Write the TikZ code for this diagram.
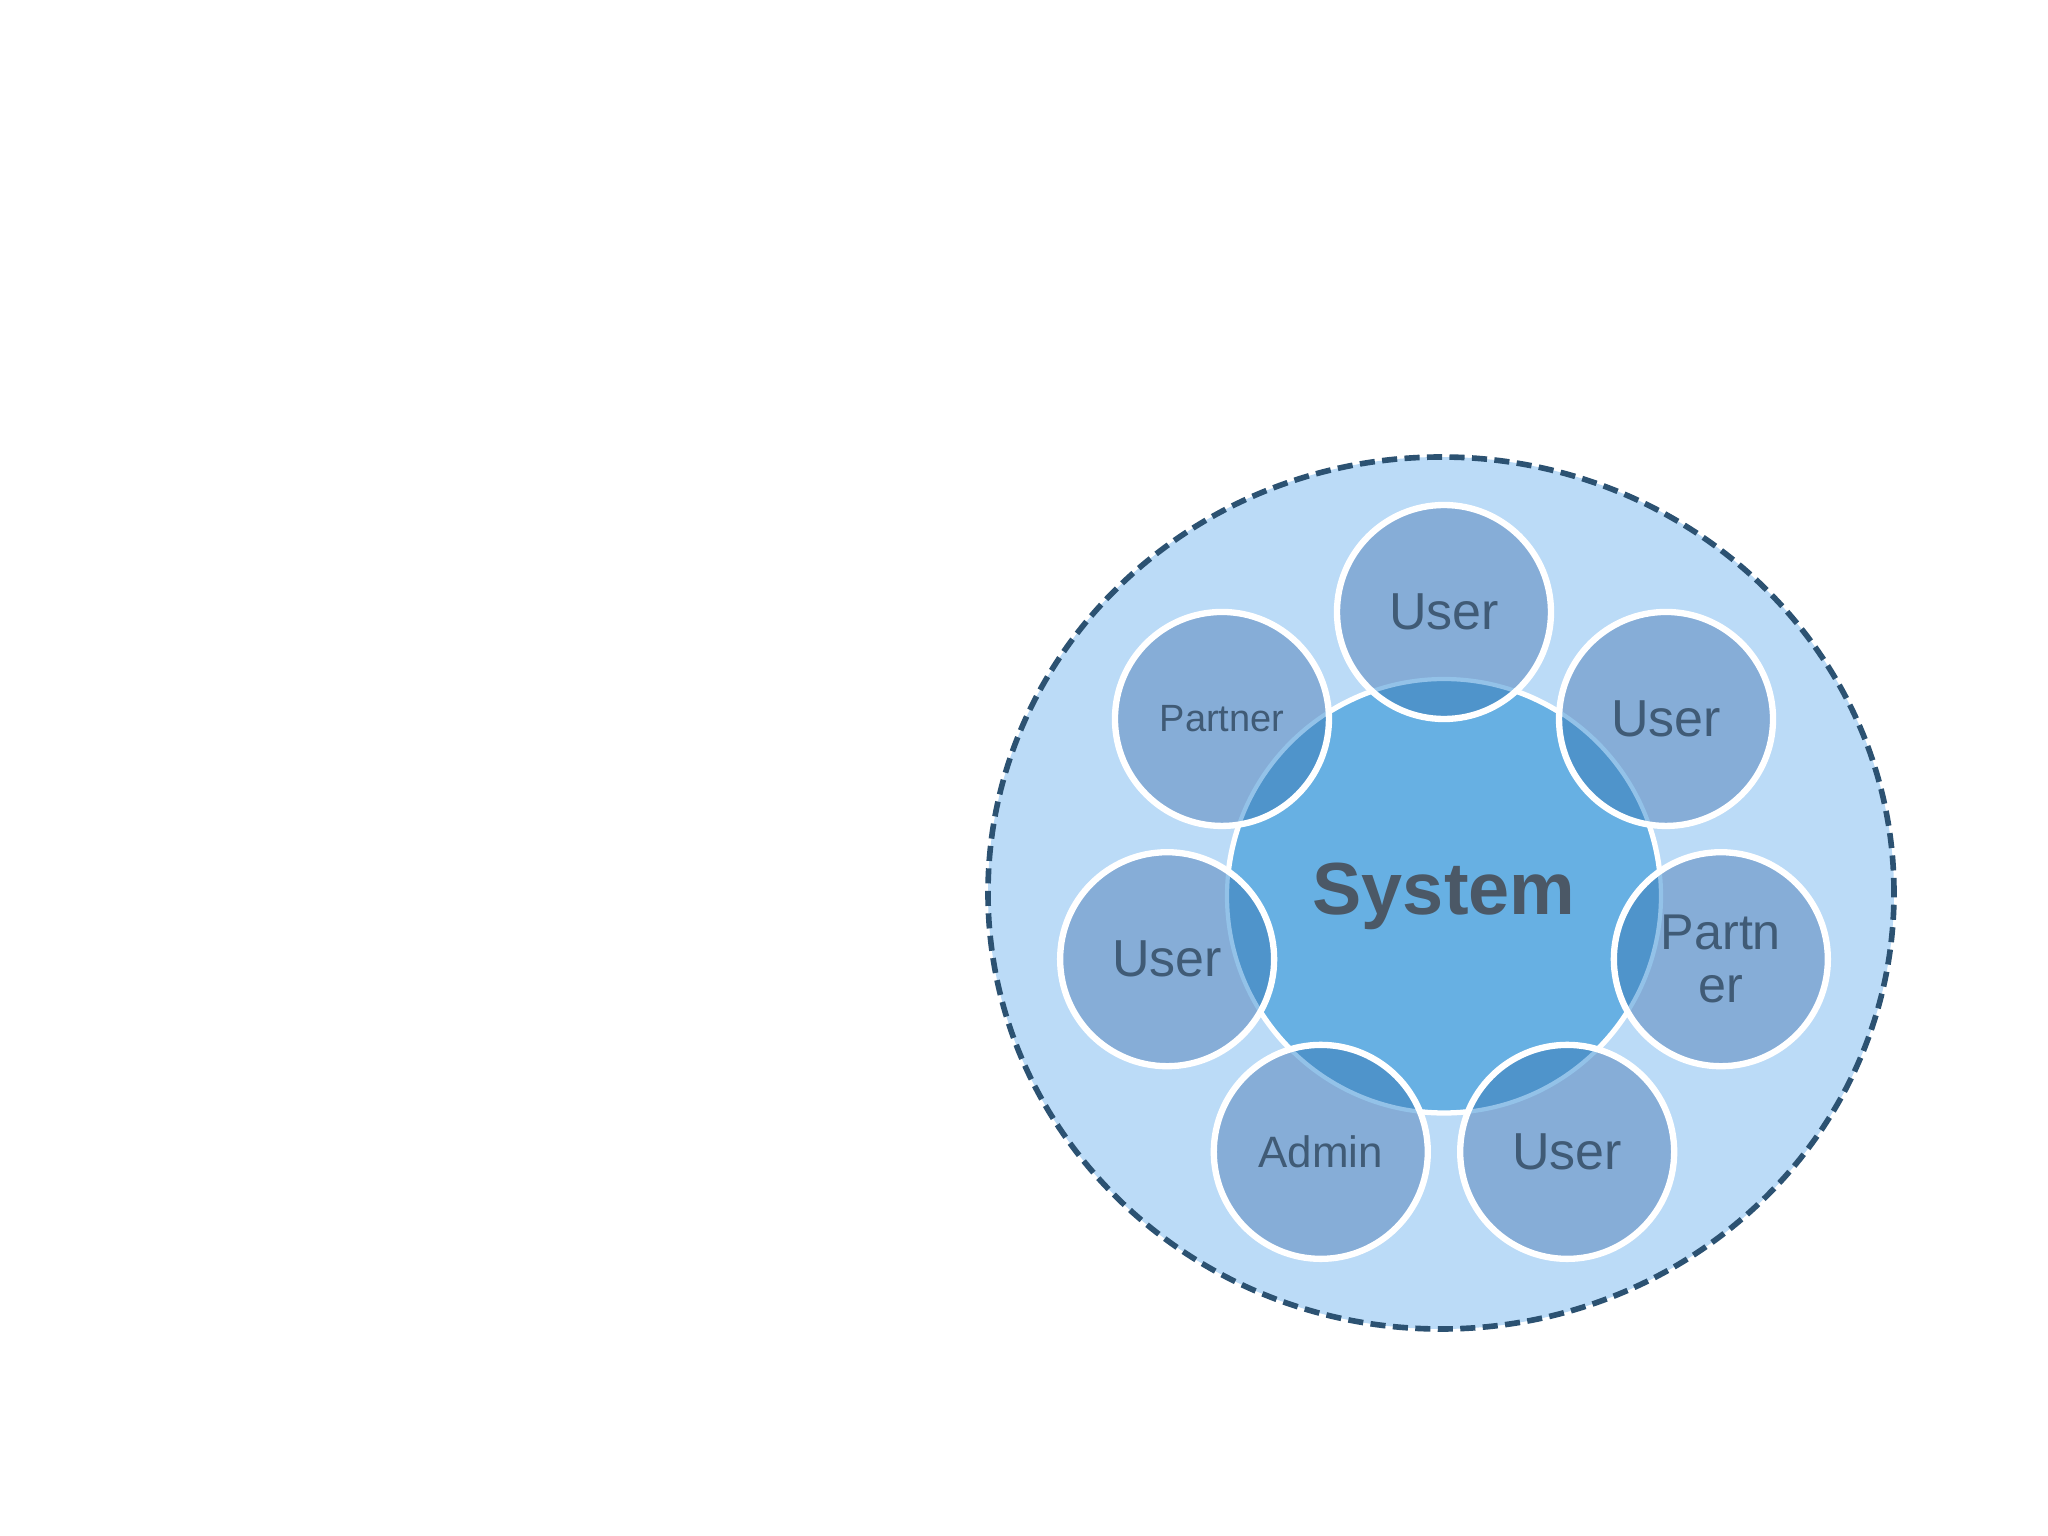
\documentclass[tikz,border=0pt]{standalone}
\usepackage{fontspec}
\setmainfont{Liberation Sans}
\definecolor{outerfill}{HTML}{BBDBF7}
\definecolor{dashcol}{HTML}{2C5272}
\definecolor{centralfill}{HTML}{67B0E3}
\definecolor{smallfill}{HTML}{86ADD7}
\definecolor{overlapfill}{HTML}{4F94CB}
\definecolor{rimcol}{HTML}{93C2E8}
\definecolor{labelcol}{HTML}{405B76}
\definecolor{syscol}{HTML}{4B5866}
\tikzset{
  outerring/.style={fill=outerfill, draw=dashcol, line width=1.6pt, dash pattern=on 4.3pt off 2.1pt},
  hub/.style={circle, fill=centralfill, draw=white, line width=1.5pt, minimum size=4.34cm, inner sep=0pt, text=syscol, font=\fontsize{21}{24}\selectfont\bfseries},
  sat/.style={circle, draw=white, line width=1.8pt, minimum size=2.14cm, inner sep=0pt, text=labelcol, align=center},
  satfill/.style={fill=smallfill},
  overlap/.style={fill=overlapfill},
  rim/.style={draw=rimcol, line width=1.2pt},
  big/.style={font=\fontsize{14.8}{16}\selectfont},
}
\begin{document}
\begin{tikzpicture}
\useasboundingbox (0,0) rectangle (20.48,-15.36);
\fill[white] (0,0) rectangle (20.48,-15.36);
\coordinate (oc) at (14.41,-8.93);
\coordinate (c) at (14.44,-8.96);
\path[outerring] (oc) ellipse [x radius=4.53, y radius=4.36];
\node[hub] (sys) at (c) {System};
% satellite fills
\foreach \a in {90,38.57,-12.86,-64.29,-115.71,-167.14,141.43}{
  \fill[satfill] (c) ++(\a:2.84) circle [radius=1.06];
}
% overlaps with hub
\foreach \a in {90,38.57,-12.86,-64.29,-115.71,-167.14,141.43}{
  \begin{scope}
    \clip (c) ++(\a:2.84) circle [radius=1.06];
    \fill[overlap] (c) circle [radius=2.17];
    \path[rim] (c) circle [radius=2.17];
  \end{scope}
}
\path (c) ++(90:2.84) node[sat, big] (u1) {User};
\path (c) ++(38.57:2.84) node[sat, big] (u2) {User};
\path (c) ++(-12.86:2.84) node[sat, font=\fontsize{14.3}{15.2}\selectfont] (p2) {Partn\\er};
\path (c) ++(-64.29:2.84) node[sat, big] (u3) {User};
\path (c) ++(-115.71:2.84) node[sat, font=\fontsize{12.5}{14}\selectfont] (ad) {Admin};
\path (c) ++(-167.14:2.84) node[sat, big] (u4) {User};
\path (c) ++(141.43:2.84) node[sat, font=\fontsize{10.8}{12}\selectfont] (p1) {Partner};
\end{tikzpicture}
\end{document}
